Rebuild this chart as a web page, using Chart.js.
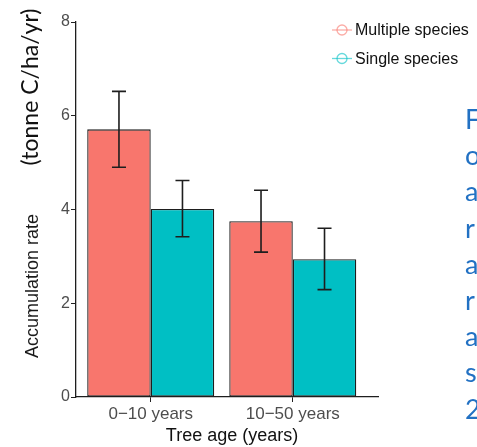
<!DOCTYPE html>
<html>
<head>
<meta charset="utf-8">
<script src="https://cdn.jsdelivr.net/npm/chart.js@4.4.1/dist/chart.umd.min.js"></script>
<style>
  html, body { margin: 0; padding: 0; width: 477px; height: 447px; overflow: hidden; background: #ffffff; }
  #wrap { position: relative; width: 477px; height: 447px; }
  canvas { position: absolute; left: 0; top: 0; }
  #side { position: absolute; left: 465px; top: 101px; font-family: Lato, "Open Sans", sans-serif; font-size: 27px; line-height: 36.2px; color: #2271c3; white-space: pre; }
</style>
</head>
<body>
<div id="wrap">
  <canvas id="c" width="477" height="447"></canvas>
  <div id="side">F
o
a
r
a
r
a
s
2</div>
</div>
<script>
// ---- data ----
const categories = ['0\u221210 years', '10\u221250 years'];
const seriesNames = ['Multiple species', 'Single species'];
const multipleValues = [5.71, 3.75];
const multipleLow    = [4.90, 3.09];
const multipleHigh   = [6.52, 4.41];
const singleValues   = [4.01, 2.94];
const singleLow      = [3.42, 2.29];
const singleHigh     = [4.62, 3.60];
const yTicks = [0, 2, 4, 6, 8];
const yTitleMain = 'Accumulation rate';
const yTitleUnit = '(tonne C/ha/yr)';
const xTitle = 'Tree age (years)';

const colors = ['#F8766D', '#00BFC4'];
const legendColors = ['rgba(248,118,109,0.6)', 'rgba(0,191,196,0.6)'];
const lows = [multipleLow, singleLow];
const highs = [multipleHigh, singleHigh];

function toPoints(vals) { return vals.map((v, i) => ({ x: i + 1, y: v })); }

const extras = {
  id: 'extras',
  afterDatasetsDraw(chart) {
    const ctx = chart.ctx;
    const ys = chart.scales.y;
    ctx.save();
    ctx.strokeStyle = '#1e1e1e';
    ctx.lineWidth = 1.6;
    chart.data.datasets.forEach((ds, di) => {
      const meta = chart.getDatasetMeta(di);
      meta.data.forEach((bar, i) => {
        const x = bar.x;
        const yh = ys.getPixelForValue(highs[di][i]);
        const yl = ys.getPixelForValue(lows[di][i]);
        ctx.beginPath();
        ctx.moveTo(x, yh); ctx.lineTo(x, yl);
        ctx.moveTo(x - 7, yh); ctx.lineTo(x + 7, yh);
        ctx.moveTo(x - 7, yl); ctx.lineTo(x + 7, yl);
        ctx.stroke();
      });
    });
    ctx.restore();
  },
  afterDraw(chart) {
    const ctx = chart.ctx;
    ctx.save();
    ctx.fillStyle = '#1a1a1a';
    ctx.textAlign = 'center';
    ctx.textBaseline = 'alphabetic';
    ctx.save();
    ctx.translate(38, 286);
    ctx.rotate(-Math.PI / 2);
    ctx.font = '18px "Liberation Sans", Arial, sans-serif';
    ctx.fillText(yTitleMain, 0, 0);
    ctx.restore();
    ctx.save();
    ctx.translate(38, 87);
    ctx.rotate(-Math.PI / 2);
    ctx.font = '23px Lato, "Open Sans", sans-serif';
    ctx.fillStyle = '#111111';
    ctx.fillText(yTitleUnit, 0, 0);
    ctx.restore();
    ctx.font = '18px "Liberation Sans", Arial, sans-serif';
    ctx.fillStyle = '#111111';
    ctx.fillText(xTitle, 232, 441);
    chart.data.datasets.forEach((ds, di) => {
      const cy = 30 + di * 28.5;
      ctx.strokeStyle = legendColors[di];
      ctx.lineWidth = 1.3;
      ctx.beginPath();
      ctx.moveTo(332, cy); ctx.lineTo(352, cy);
      ctx.stroke();
      ctx.beginPath();
      ctx.arc(342, cy, 5, 0, Math.PI * 2);
      ctx.stroke();
      ctx.fillStyle = '#111111';
      ctx.font = '16px "Liberation Sans", Arial, sans-serif';
      ctx.textAlign = 'left';
      ctx.textBaseline = 'middle';
      ctx.fillText(ds.label, 355, cy + 1);
    });
    ctx.restore();
  }
};

new Chart(document.getElementById('c'), {
  type: 'bar',
  data: {
    datasets: [
      { label: seriesNames[0], data: toPoints(multipleValues), backgroundColor: colors[0] },
      { label: seriesNames[1], data: toPoints(singleValues), backgroundColor: colors[1] }
    ]
  },
  options: {
    responsive: false,
    animation: false,
    devicePixelRatio: 1,
    layout: { padding: { left: 0, top: 22, right: 99, bottom: 0 } },
    datasets: {
      bar: {
        borderColor: '#1e1e1e',
        borderWidth: 1.3,
        borderSkipped: false,
        categoryPercentage: 0.894,
        barPercentage: 1.0
      }
    },
    plugins: { legend: { display: false }, tooltip: { enabled: false } },
    scales: {
      x: {
        type: 'linear',
        min: 0.474,
        max: 2.6,
        offset: false,
        afterBuildTicks(s) { s.ticks = categories.map((c, i) => ({ value: i + 1 })); },
        afterFit(s) { s.height = 50; },
        grid: { display: true, offset: false, drawOnChartArea: false, drawTicks: true, tickLength: 5, color: '#222222', lineWidth: 1 },
        border: { display: true, color: '#1e1e1e', width: 1.3 },
        ticks: {
          callback: (v) => categories[Math.round(v) - 1],
          font: { size: 17, family: '"Liberation Sans", Arial, sans-serif' },
          color: '#4d4d4d',
          padding: 2,
          maxRotation: 0
        }
      },
      y: {
        min: 0,
        max: 8,
        afterBuildTicks(s) { s.ticks = yTicks.map(v => ({ value: v })); },
        afterFit(s) { s.width = 76; },
        grid: { display: true, drawOnChartArea: false, drawTicks: true, tickLength: 5, color: '#222222', lineWidth: 1 },
        border: { display: true, color: '#1e1e1e', width: 1.3 },
        ticks: {
          font: { size: 16, family: '"Liberation Sans", Arial, sans-serif' },
          color: '#4d4d4d',
          padding: 1
        }
      }
    }
  },
  plugins: [extras]
});
</script>
</body>
</html>
